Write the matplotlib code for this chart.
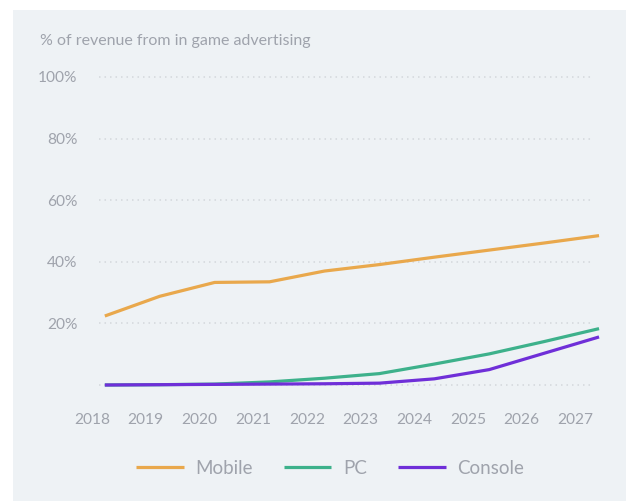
import matplotlib
matplotlib.use("Agg")
import matplotlib.pyplot as plt
from matplotlib.patches import Rectangle
import numpy as np

plt.rcParams['font.family'] = ['Lato', 'DejaVu Sans']

# Data: share of revenue from in-game advertising (%)
years = ["2018", "2019", "2020", "2021", "2022", "2023", "2024", "2025", "2026", "2027"]
mobile = [22.4, 28.8, 33.3, 33.5, 37.0, 39.1, 41.5, 43.8, 46.1, 48.5]
pc = [0.0, 0.1, 0.3, 1.0, 2.2, 3.7, 6.8, 10.1, 14.1, 18.3]
console = [0.0, 0.1, 0.2, 0.3, 0.4, 0.6, 2.0, 5.0, 10.3, 15.6]
y_ticks = [0, 20, 40, 60, 80, 100]
y_tick_labels = ["", "20%", "40%", "60%", "80%", "100%"]

series = [("Mobile", mobile, "#E9A84C"),
          ("PC", pc, "#3DB18B"),
          ("Console", console, "#6F2FD8")]

W, H = 626, 501
DPI = 100
BG = "#EEF2F5"
TXT = "#9FA3AC"
GRID = "#D3D7DC"

fig = plt.figure(figsize=(W / DPI, H / DPI), dpi=DPI, facecolor="white")

# light panel behind the chart
fig.add_artist(Rectangle((13 / W, 0), 1 - 13 / W, 1 - 10 / H,
                         transform=fig.transFigure, facecolor=BG,
                         edgecolor="none", zorder=-10))

# axes placement in pixels
left_px, right_px, top_px, bot_px = 92, 600, 77, 385
ax = fig.add_axes([left_px / W, 1 - bot_px / H,
                   (right_px - left_px) / W, (bot_px - top_px) / H])
ax.set_facecolor("none")

# point spacing and offsets (pixels)
first_pt_px, step_px = 98, 55.67
x = np.arange(len(years))
ax.set_xlim((left_px - first_pt_px) / step_px, (right_px - first_pt_px) / step_px)
ax.set_ylim(0, 100)

# dotted horizontal guides
grid_end = (593 - first_pt_px) / step_px
grid_start = (left_px - first_pt_px) / step_px
for yv in y_ticks:
    ax.plot([grid_start, grid_end], [yv, yv], color=GRID, lw=1.1,
            linestyle=(0, (1, 2.6)), zorder=1, clip_on=False)

handles = []
for name, vals, col in series:
    ln, = ax.plot(x, vals, color=col, lw=2.3, solid_capstyle="butt",
                  solid_joinstyle="round", label=name, zorder=3, clip_on=False)
    handles.append(ln)

# year labels sit on their own spacing
label_first_px, label_step_px = 85, 54.44
label_pos = [(label_first_px + i * label_step_px - first_pt_px) / step_px
             for i in range(len(years))]
ax.set_xticks(label_pos)
ax.set_xticklabels(years)
ax.set_yticks(y_ticks)
ax.set_yticklabels(y_tick_labels)
ax.tick_params(axis="both", length=0, colors=TXT, labelsize=11.2)
ax.tick_params(axis="x", pad=20)
ax.tick_params(axis="y", pad=10.5)
for s in ax.spines.values():
    s.set_visible(False)

fig.text(40 / W, 1 - 41 / H, "% of revenue from in game advertising",
         color=TXT, fontsize=11.5, ha="left", va="center")

leg = fig.legend(handles=handles, loc="center", ncol=3,
                 bbox_to_anchor=(330 / W, 1 - 468 / H), frameon=False,
                 fontsize=13.5, handlelength=2.55, handletextpad=0.62,
                 columnspacing=1.65)
for t in leg.get_texts():
    t.set_color(TXT)

fig.savefig("out.png", dpi=DPI, facecolor="white")
